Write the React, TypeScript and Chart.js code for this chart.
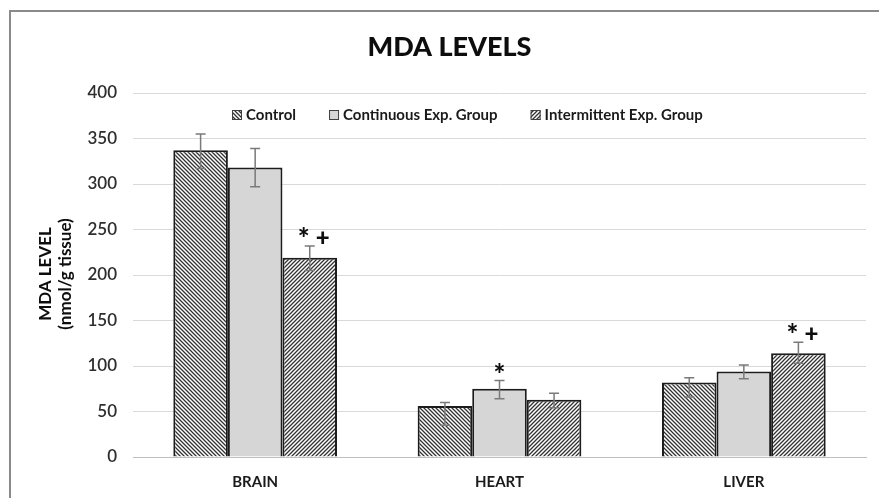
import React, { useEffect, useRef } from "react";
import { Chart, registerables } from "chart.js";

Chart.register(...registerables);

const categories = ["BRAIN", "HEART", "LIVER"];
const seriesNames = ["Control", "Continuous Exp. Group", "Intermittent Exp. Group"];
const controlValues = [337, 56, 82];
const continuousValues = [318, 75, 94];
const intermittentValues = [219, 63, 114];
const controlErrPlus = [18, 4, 5];
const controlErrMinus = [20, 21, 16];
const continuousErrPlus = [21, 9, 7];
const continuousErrMinus = [21, 11, 8];
const intermittentErrPlus = [13, 7, 12];
const intermittentErrMinus = [14, 9, 11];
const controlMarks = ["", "", ""];
const continuousMarks = ["", "*", ""];
const intermittentMarks = ["*+", "", "*+"];
const yMin = 0;
const yMax = 400;
const yStep = 50;
const chartTitle = "MDA LEVELS";
const yTitleLines = ["MDA LEVEL", "(nmol/g tissue)"];

const FONT = "Lato, 'Open Sans', sans-serif";

function makeStripe(dir: "back" | "fwd"): CanvasPattern | string {
  const s = 4;
  const c = document.createElement("canvas");
  c.width = s;
  c.height = s;
  const ctx = c.getContext("2d");
  if (!ctx) return "#aaa";
  ctx.fillStyle = "#ffffff";
  ctx.fillRect(0, 0, s, s);
  ctx.strokeStyle = "#333333";
  ctx.lineWidth = 1.3;
  ctx.beginPath();
  if (dir === "back") {
    ctx.moveTo(-1, -1); ctx.lineTo(s + 1, s + 1);
    ctx.moveTo(-1, s - 1); ctx.lineTo(1, s + 1);
    ctx.moveTo(s - 1, -1); ctx.lineTo(s + 1, 1);
  } else {
    ctx.moveTo(-1, s + 1); ctx.lineTo(s + 1, -1);
    ctx.moveTo(-1, 1); ctx.lineTo(1, -1);
    ctx.moveTo(s - 1, s + 1); ctx.lineTo(s + 1, s - 1);
  }
  ctx.stroke();
  const p = ctx.createPattern(c, "repeat");
  return p || "#aaa";
}

export default function App() {
  const ref = useRef<HTMLCanvasElement | null>(null);

  useEffect(() => {
    if (!ref.current) return;
    const ctrlFill = makeStripe("back");
    const contFill = "#d6d6d6";
    const interFill = makeStripe("fwd");
    const fills = [ctrlFill, contFill, interFill];
    const plus = [controlErrPlus, continuousErrPlus, intermittentErrPlus];
    const minus = [controlErrMinus, continuousErrMinus, intermittentErrMinus];
    const marks = [controlMarks, continuousMarks, intermittentMarks];

    const decor = {
      id: "decor",
      beforeDraw(chart: any) {
        const ctx = chart.ctx;
        ctx.save();
        ctx.fillStyle = "#ffffff";
        ctx.fillRect(0, 0, chart.width, chart.height);
        ctx.strokeStyle = "#8a8a8a";
        ctx.lineWidth = 2;
        ctx.strokeRect(10, 11, chart.width + 20, chart.height + 20);
        ctx.restore();
      },
      afterDatasetsDraw(chart: any) {
        const ctx = chart.ctx;
        const ys = chart.scales.y;
        ctx.save();
        chart.data.datasets.forEach((ds: any, i: number) => {
          const meta = chart.getDatasetMeta(i);
          meta.data.forEach((bar: any, j: number) => {
            const v = ds.data[j];
            const yT = ys.getPixelForValue(v + plus[i][j]);
            const yB = ys.getPixelForValue(v - minus[i][j]);
            const x = bar.x;
            ctx.strokeStyle = "#7a7a7a";
            ctx.lineWidth = 1.5;
            ctx.beginPath();
            ctx.moveTo(x, yT); ctx.lineTo(x, yB);
            ctx.moveTo(x - 5, yT); ctx.lineTo(x + 5, yT);
            ctx.moveTo(x - 5, yB); ctx.lineTo(x + 5, yB);
            ctx.stroke();
            const m = marks[i][j];
            ctx.fillStyle = "#0d0d0d";
            ctx.textAlign = "center";
            ctx.textBaseline = "middle";
            if (m === "*+") {
              ctx.font = `900 28px ${FONT}`;
              ctx.fillText("*", x - 6, yT - 7);
              ctx.font = `900 24px ${FONT}`;
              ctx.fillText("+", x + 13, yT - 8);
            } else if (m === "*") {
              ctx.font = `900 28px ${FONT}`;
              ctx.fillText("*", x, yT - 6);
            }
          });
        });
        ctx.restore();
      },
      afterDraw(chart: any) {
        const ctx = chart.ctx;
        const area = chart.chartArea;
        ctx.save();
        // title
        ctx.fillStyle = "#0d0d0d";
        ctx.font = `900 27px ${FONT}`;
        ctx.textAlign = "center";
        ctx.textBaseline = "middle";
        ctx.fillText(chartTitle, chart.width / 2 + 10, 47);
        // legend
        ctx.font = `bold 15px ${FONT}`;
        ctx.textAlign = "left";
        let x = area.left + 99;
        const ly = 115;
        seriesNames.forEach((name, i) => {
          ctx.fillStyle = fills[i];
          ctx.fillRect(x, ly - 5, 10, 10);
          ctx.strokeStyle = "#404040";
          ctx.lineWidth = 1;
          ctx.strokeRect(x + 0.5, ly - 4.5, 9, 9);
          ctx.fillStyle = "#1a1a1a";
          ctx.fillText(name, x + 14, ly);
          x += 14 + ctx.measureText(name).width + 33;
        });
        // y title
        ctx.translate(56, (area.top + area.bottom) / 2 - 1);
        ctx.rotate(-Math.PI / 2);
        ctx.font = `bold 17px ${FONT}`;
        ctx.textAlign = "center";
        ctx.fillStyle = "#0d0d0d";
        ctx.fillText(yTitleLines[0], 0, -10);
        ctx.fillText(yTitleLines[1], 0, 10);
        ctx.restore();
      },
    };

    const chart = new Chart(ref.current, {
      type: "bar",
      data: {
        labels: categories,
        datasets: [
          { label: seriesNames[0], data: controlValues, backgroundColor: ctrlFill as any },
          { label: seriesNames[1], data: continuousValues, backgroundColor: contFill },
          { label: seriesNames[2], data: intermittentValues, backgroundColor: interFill as any },
        ].map((d) => ({
          ...d,
          borderColor: "#1c1c1c",
          borderWidth: 2,
          categoryPercentage: 0.67,
          barPercentage: 1.0,
        })),
      },
      options: {
        responsive: false,
        animation: false,
        layout: { padding: { left: 10, top: 93, right: 13, bottom: 0 } },
        plugins: {
          legend: { display: false },
          title: { display: false },
          tooltip: { enabled: false },
        },
        scales: {
          x: {
            grid: { display: false, drawTicks: false },
            border: { color: "#bfbfbf", width: 1 },
            ticks: {
              padding: 16,
              color: "#1a1a1a",
              font: { family: FONT, size: 15, weight: "bold" },
            },
            afterFit: (s: any) => {
              s.height = 41;
            },
          },
          y: {
            min: yMin,
            max: yMax,
            grid: { color: "#d9d9d9", lineWidth: 1, drawTicks: false },
            border: { display: false },
            ticks: {
              stepSize: yStep,
              padding: 16,
              color: "#2e2e2e",
              font: { family: FONT, size: 17, weight: "600" },
            },
            afterFit: (s: any) => {
              s.width = 123;
            },
          },
        },
      },
      plugins: [decor],
    });
    return () => chart.destroy();
  }, []);

  return (
    <div style={{ position: "fixed", left: 0, top: 0, width: 879, height: 498 }}>
      <canvas ref={ref} width={879} height={498} />
    </div>
  );
}
